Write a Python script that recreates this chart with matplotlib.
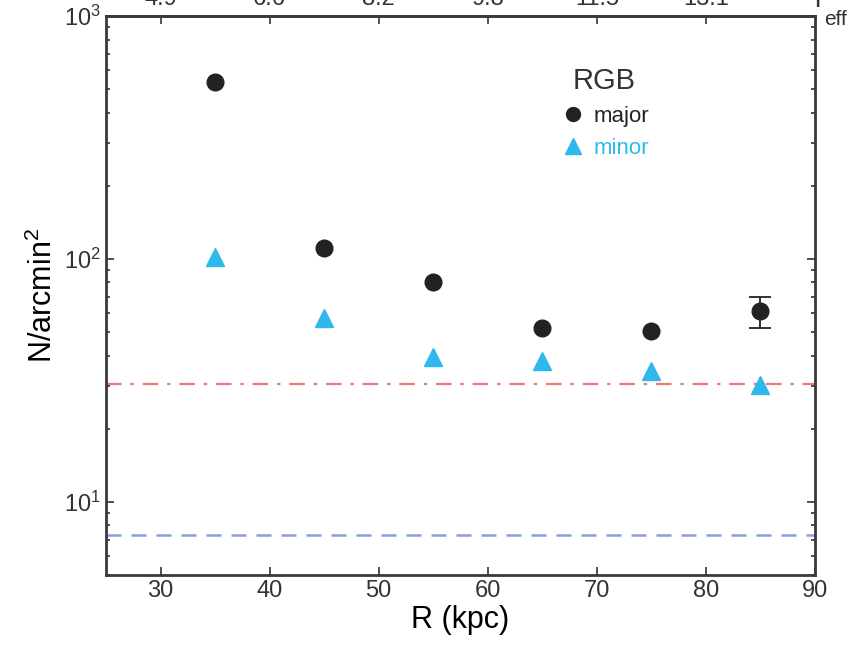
import numpy as np
import matplotlib
matplotlib.use("Agg")
import matplotlib.pyplot as plt
from matplotlib.lines import Line2D
from matplotlib.ticker import FixedLocator, LogLocator, NullFormatter

plt.rcParams["font.family"] = ["Liberation Sans", "DejaVu Sans"]
plt.rcParams["mathtext.fontset"] = "custom"
plt.rcParams["mathtext.rm"] = "Liberation Sans"
plt.rcParams["mathtext.it"] = "Liberation Sans:italic"

# RGB star counts along the two axes
R_kpc = [35, 45, 55, 65, 75, 85]
major = [535, 111, 80, 52, 50.5, 61]
minor = [102, 57, 39.5, 38, 34.6, 30.3]
major_err = [0, 0, 0, 0, 0, 9]

bg_level = 30.5      # dash-dot level
fg_level = 7.3       # dashed level

top_ticks = [30, 40, 50, 60, 70, 80]
top_labels = ["4.9", "6.6", "8.2", "9.8", "11.5", "13.1"]

CYAN = "#2fb8ec"
INK = "#222222"
GREY = "#333333"

fig = plt.figure(figsize=(8.56, 6.47), dpi=100)
ax = fig.add_axes([106 / 856, 1 - 575 / 647, (815 - 106) / 856, (575 - 16) / 647])

ax.axhline(bg_level, color="#f07878", ls=(0, (7, 4, 1.5, 4)), lw=1.6, zorder=1)
ax.axhline(fg_level, color="#8c9edc", ls=(0, (6, 4)), lw=1.8, zorder=1)

# error bars only where an uncertainty is given
has_err = [i for i, e in enumerate(major_err) if e > 0]
ax.errorbar([R_kpc[i] for i in has_err], [major[i] for i in has_err],
            yerr=[major_err[i] for i in has_err], fmt="none", ecolor=INK,
            capsize=8, elinewidth=1.3, capthick=1.3, zorder=2)
ax.plot(R_kpc, major, "o", color=INK, ms=12, ls="none", zorder=3)
ax.plot(R_kpc, minor, "^", color=CYAN, ms=13, ls="none", zorder=3)

ax.set_yscale("log")
ax.set_xlim(25, 90)
ax.set_ylim(5, 1000)
ax.set_xticks([30, 40, 50, 60, 70, 80, 90])
ax.yaxis.set_major_locator(LogLocator(base=10, numticks=10))
ax.yaxis.set_minor_locator(LogLocator(base=10, subs=np.arange(2, 10), numticks=10))
ax.yaxis.set_minor_formatter(NullFormatter())

ax.tick_params(which="both", direction="in", right=True, labelsize=17,
               colors=GREY, width=1.2)
ax.tick_params(which="major", length=6)
ax.tick_params(which="minor", length=3)
ax.tick_params(axis="x", which="minor", bottom=False)
for sp in ax.spines.values():
    sp.set_linewidth(2)
    sp.set_color("#3a3a3a")

ax.set_xlabel("R (kpc)", fontsize=22, labelpad=2)
ax.set_ylabel("N/arcmin$^2$", fontsize=22, labelpad=4)

# effective-radius scale on the top axis
top = ax.secondary_xaxis("top")
top.xaxis.set_major_locator(FixedLocator(top_ticks))
top.set_xticklabels(top_labels)
top.tick_params(direction="in", length=6, width=1.2, labelsize=17,
                colors=GREY, pad=4)
top.spines["top"].set_linewidth(2)
top.spines["top"].set_color("#3a3a3a")
fig.text(814 / 856, 1 - 7 / 647, "r", fontsize=20, color=GREY,
         ha="left", va="baseline")
fig.text(824 / 856, 1 - 25 / 647, "eff", fontsize=15, color=GREY,
         ha="left", va="baseline")

handles = [Line2D([], [], marker="o", ls="none", color=INK, ms=10),
           Line2D([], [], marker="^", ls="none", color=CYAN, ms=12)]
leg = ax.legend(handles, ["major", "minor"], loc="upper left",
                bbox_to_anchor=(0.628, 0.925), frameon=False,
                title="RGB", fontsize=16, title_fontsize=21, handletextpad=0.3,
                borderaxespad=0, labelspacing=0.5, handlelength=1.2)
for txt, col in zip(leg.get_texts(), [INK, CYAN]):
    txt.set_color(col)
leg.get_title().set_color(GREY)

fig.savefig("out.png", dpi=100)
